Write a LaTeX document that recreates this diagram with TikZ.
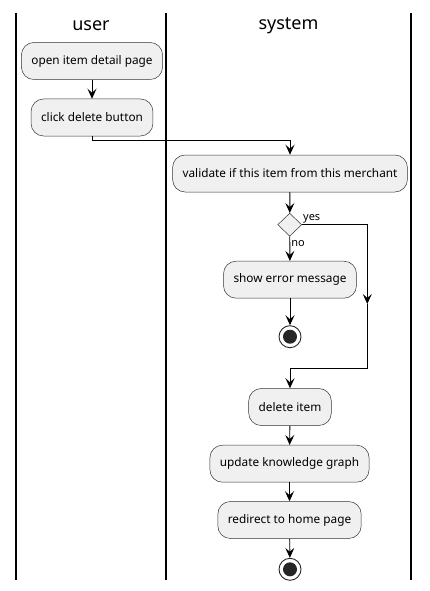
\documentclass[tikz,border=0pt]{standalone}
\usepackage{fontspec}
\setmainfont{Noto Sans}
\usetikzlibrary{
    arrows.meta,
    shapes.geometric,
    calc,
    positioning
}

\tikzset{
    act/.style={draw=black!80, fill=black!6, line width=0.5, rounded corners=12.5,
        minimum height=37, inner xsep=10, font=\fontsize{11.8}{14}\selectfont},
    choice/.style={diamond, draw=black!80, fill=black!6, line width=0.5,
        minimum width=24, minimum height=23, inner sep=0},
    stopnode/.style={circle, draw=black!85, line width=0.9, minimum size=22, inner sep=0,
        path picture={\fill[black!85] (path picture bounding box.center) circle (7);}},
    flow/.style={line width=0.9, -{Stealth[length=10,width=9,inset=4]}},
    lane/.style={line width=1.5},
    lanehead/.style={font=\fontsize{18}{20}\selectfont},
    guard/.style={font=\fontsize{11}{13}\selectfont, inner sep=1}
}

\begin{document}
\begin{tikzpicture}[x=1pt, y=-1pt]
                        \useasboundingbox (0, 0) rectangle (429, 591);

                        % swimlanes
                        \draw[lane] (16, 13) -- (16, 580);
                        \draw[lane] (166, 13) -- (166, 580);
                        \draw[lane] (411, 13) -- (411, 580);
                        \node[lanehead] (userhead) at (91, 26) {user};
                        \node[lanehead] (systemhead) at (288.5, 26) {system};

                        \node[act] (open) at (92, 61) {open item detail page};
                        \node[act] (click) at (92, 117.5) {click delete button};
                        \node[act] (validate) at (290, 173.5) {validate if this item from this merchant};
                        \node[choice] (check) at (289.7, 224.7) {};
                        \node[act] (error) at (290, 279.7) {show error message};
                        \node[stopnode] (stopa) at (290, 336.7) {};
                        \node[act] (delete) at (290, 407) {delete item};
                        \node[act] (update) at (289.5, 463.7) {update knowledge graph};
                        \node[act] (redirect) at (289.5, 520) {redirect to home page};
                        \node[stopnode] (stopb) at (290, 569.3) {};

                        \coordinate (yesmid) at (367.3, 304);
                        \coordinate (yesturn) at (367.3, 368.3);

                        \draw[flow] (open) -- (click);
                        \draw[flow] (click.south) -- ++(0, 4.5) -| (validate.north);
                        \draw[flow] (validate) -- (check);
                        \draw[flow] (check) -- node[guard, right, pos=0.3]{no} (error);
                        \draw[flow] (error) -- (stopa);
                        \draw (check.east) node[guard, anchor=south west]{yes};
                        \draw[flow] (check.east) -| (yesmid);
                        \draw[flow] (yesmid) -- (yesturn) -| (delete.north);
                        \draw[flow] (delete) -- (update);
                        \draw[flow] (update) -- (redirect);
                        \draw[flow] (redirect) -- (stopb);
                    \end{tikzpicture}
\end{document}
